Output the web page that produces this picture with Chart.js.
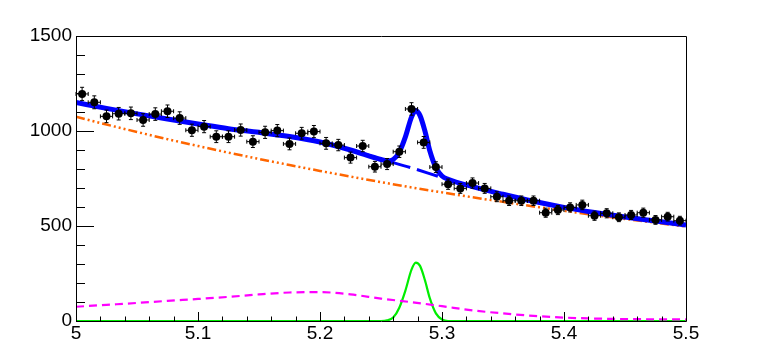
<!DOCTYPE html>
<html>
<head>
<meta charset="utf-8">
<script src="https://cdn.jsdelivr.net/npm/chart.js@4"></script>
<style>
  html, body { margin: 0; padding: 0; background: #fff; }
  canvas { display: block; }
</style>
</head>
<body>
<canvas id="fitChart" width="763" height="357"></canvas>
<script>
// binned data (bin centres, counts, errors)
const binCenters = [5.005,5.015,5.025,5.035,5.045,5.055,5.065,5.075,5.085,5.095,
                    5.105,5.115,5.125,5.135,5.145,5.155,5.165,5.175,5.185,5.195,
                    5.205,5.215,5.225,5.235,5.245,5.255,5.265,5.275,5.285,5.295,
                    5.305,5.315,5.325,5.335,5.345,5.355,5.365,5.375,5.385,5.395,
                    5.405,5.415,5.425,5.435,5.445,5.455,5.465,5.475,5.485,5.495];
const counts = [1195,1151,1077,1091,1093,1058,1089,1104,1068,1004,
                1023,970,970,1005,944,993,1002,932,988,997,
                935,926,860,921,812,826,891,1116,940,810,
                720,698,726,698,654,633,633,633,570,584,
                598,611,554,567,546,558,570,532,549,528];
const countErr = [35,34,33,33,33,33,33,33,33,32,
                  32,31,31,32,31,32,32,31,31,32,
                  31,30,29,30,28,29,30,33,31,28,
                  27,26,27,26,26,25,25,25,24,24,
                  24,25,24,24,23,24,24,23,23,23];
const binHalfWidth = 0.005;

// fitted curves
const gridX = [5.000,5.025,5.050,5.075,5.100,5.125,5.150,5.175,5.200,5.225,5.250,
               5.275,5.300,5.325,5.350,5.375,5.400,5.425,5.450,5.475,5.500];
const combBkg = [1075,1034,995,957,921,886,853,821,790,760,731,
                 703,677,651,627,603,580,558,537,517,497];
const partBkg = [75,85,95,106,116,127,140,150,152,140,118,
                 99,78,56,40,27,18,13,10,9,8];
const totalBkg = [1150,1119,1090,1063,1037,1012,993,971,942,900,852,
                  806,755,707,667,630,598,571,547,526,505];

const totalX = [5.000,5.025,5.050,5.075,5.100,5.125,5.150,5.175,5.200,5.225,5.250,
                5.255,5.260,5.265,5.270,5.275,5.2785,5.282,5.286,5.290,5.295,
                5.300,5.305,5.325,5.350,5.375,5.400,5.425,5.450,5.475,5.500];
const totalY = [1150,1119,1090,1063,1037,1012,993,971,942,900,850,
                843,850,889,969,1073,1108,1081,1000,896,807,
                763,746,707,667,630,598,571,547,526,505];

const sigX = [5.000,5.250,5.255,5.260,5.265,5.270,5.275,5.2785,5.282,5.286,
              5.290,5.295,5.300,5.305,5.500];
const sigY = [0,0,3,18,70,160,270,307,290,215,120,40,8,0,0];

const xTicks = [5,5.1,5.2,5.3,5.4,5.5];
const yTicks = [0,500,1000,1500];

const pts = (xs, ys) => xs.map((x, i) => ({x: x, y: ys[i]}));

// error bars + ROOT style frame and inner ticks
const rootStyle = {
    id: "rootStyle",
    beforeDatasetDraw(chart, args) {
        if (args.index !== 0) return;
        const c = chart.ctx, xs = chart.scales.x, ys = chart.scales.y;
        c.save();
        c.strokeStyle = "#000";
        c.lineWidth = 1;
        binCenters.forEach((bx, i) => {
            const px = xs.getPixelForValue(bx);
            const py = ys.getPixelForValue(counts[i]);
            const top = ys.getPixelForValue(counts[i] + countErr[i]);
            const bot = ys.getPixelForValue(counts[i] - countErr[i]);
            const l = xs.getPixelForValue(bx - binHalfWidth);
            const r = xs.getPixelForValue(bx + binHalfWidth);
            c.beginPath();
            c.moveTo(px, top); c.lineTo(px, bot);
            c.moveTo(px - 2, top); c.lineTo(px + 2, top);
            c.moveTo(px - 2, bot); c.lineTo(px + 2, bot);
            c.moveTo(l, py); c.lineTo(r, py);
            c.moveTo(l, py - 2); c.lineTo(l, py + 2);
            c.moveTo(r, py - 2); c.lineTo(r, py + 2);
            c.stroke();
        });
        c.restore();
    },
    afterDraw(chart) {
        const c = chart.ctx, a = chart.chartArea;
        const xs = chart.scales.x, ys = chart.scales.y;
        c.save();
        c.strokeStyle = "#000";
        c.lineWidth = 1;
        c.beginPath();
        c.rect(Math.round(a.left) + 0.5, Math.round(a.top) + 0.5,
               Math.round(a.right - a.left), Math.round(a.bottom - a.top));
        c.stroke();
        c.beginPath();
        for (let v = 5; v <= 5.5001; v += 0.02) {
            const px = Math.round(xs.getPixelForValue(v)) + 0.5;
            const major = Math.abs(v * 10 - Math.round(v * 10)) < 1e-6;
            c.moveTo(px, a.bottom);
            c.lineTo(px, a.bottom - (major ? 9 : 4.5));
        }
        for (let v = 0; v <= 1500; v += 100) {
            const py = Math.round(ys.getPixelForValue(v)) + 0.5;
            c.moveTo(a.left, py);
            c.lineTo(a.left + (v % 500 === 0 ? 18 : 9), py);
        }
        c.stroke();
        c.restore();
    }
};

Chart.defaults.font.family = "'Liberation Sans', Arial, sans-serif";
Chart.defaults.color = "#000";

new Chart(document.getElementById("fitChart"), {
    type: "scatter",
    data: {
        datasets: [
            {
                label: "data",
                data: pts(binCenters, counts),
                pointRadius: 4,
                pointBackgroundColor: "#000",
                pointBorderColor: "#000",
                pointBorderWidth: 0,
                showLine: false,
                order: 0
            },
            {
                label: "total",
                data: pts(totalX, totalY),
                showLine: true,
                borderColor: "#0000ff",
                borderWidth: 5,
                pointRadius: 0,
                cubicInterpolationMode: "monotone",
                order: 1
            },
            {
                label: "total background",
                data: pts(gridX, totalBkg),
                showLine: true,
                borderColor: "#0000ff",
                borderWidth: 3,
                borderDash: [22, 7],
                pointRadius: 0,
                cubicInterpolationMode: "monotone",
                order: 2
            },
            {
                label: "combinatorial",
                data: pts(gridX, combBkg),
                showLine: true,
                borderColor: "#ff6600",
                borderWidth: 2.5,
                borderDash: [9, 3, 2, 3, 2, 3, 2, 3],
                pointRadius: 0,
                cubicInterpolationMode: "monotone",
                order: 3
            },
            {
                label: "partial",
                data: pts(gridX, partBkg),
                showLine: true,
                borderColor: "#ff00ff",
                borderWidth: 2.2,
                borderDash: [8, 5],
                pointRadius: 0,
                cubicInterpolationMode: "monotone",
                order: 4
            },
            {
                label: "signal",
                data: pts(sigX, sigY),
                showLine: true,
                borderColor: "#00ee00",
                borderWidth: 2.2,
                pointRadius: 0,
                cubicInterpolationMode: "monotone",
                order: 5
            }
        ]
    },
    options: {
        responsive: false,
        animation: false,
        events: [],
        layout: { padding: { left: 0, right: 77, top: 36, bottom: 0 } },
        plugins: { legend: { display: false }, tooltip: { enabled: false } },
        scales: {
            x: {
                type: "linear",
                min: 5,
                max: 5.5,
                afterBuildTicks: s => { s.ticks = xTicks.map(v => ({value: v})); },
                afterFit: s => { s.height = 36; },
                grid: { display: false, drawTicks: false },
                border: { display: false },
                ticks: {
                    padding: 1,
                    maxRotation: 0,
                    font: { size: 19 },
                    callback: v => String(+v.toFixed(1))
                }
            },
            y: {
                min: 0,
                max: 1500,
                afterBuildTicks: s => { s.ticks = yTicks.map(v => ({value: v})); },
                afterFit: s => { s.width = 76; },
                grid: { display: false, drawTicks: false },
                border: { display: false },
                ticks: { padding: 4, font: { size: 19 }, callback: v => String(v) }
            }
        }
    },
    plugins: [rootStyle]
});
</script>
</body>
</html>
